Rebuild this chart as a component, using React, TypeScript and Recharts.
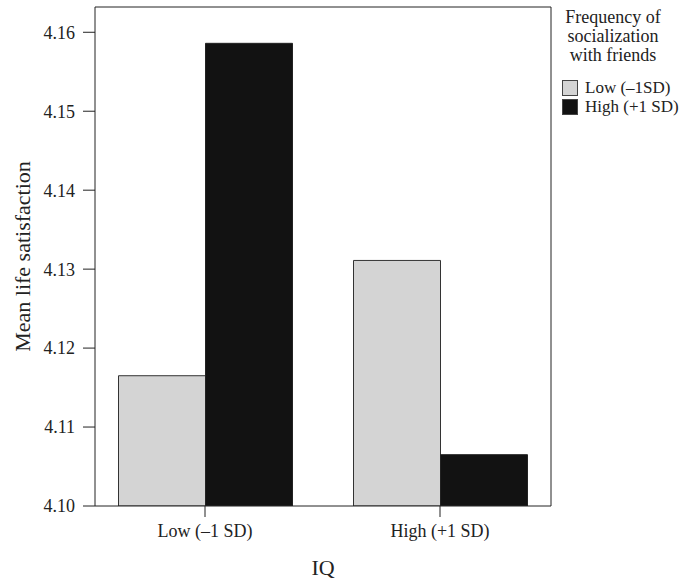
import { Bar, BarChart, XAxis, YAxis } from "recharts";

const iqGroups = ["Low (\u20131 SD)", "High (+1 SD)"];
const lowSocial = [4.1165, 4.1311];
const highSocial = [4.1586, 4.1065];
const yTicks = [4.1, 4.11, 4.12, 4.13, 4.14, 4.15, 4.16];
const legendTitle = ["Frequency of", "socialization", "with friends"];
const legendItems = [
  { label: "Low (\u20131SD)", color: "#d4d4d4" },
  { label: "High (+1 SD)", color: "#121212" },
];

const data = iqGroups.map((g, i) => ({
  iq: g,
  low: lowSocial[i],
  high: highSocial[i],
}));

const font = "'Liberation Serif', 'DejaVu Serif', serif";

const LegendBox = () => (
  <div
    style={{
      position: "absolute",
      left: 557,
      top: 8,
      width: 112,
      fontFamily: font,
      fontSize: 18,
      color: "#222",
    }}
  >
    <div style={{ textAlign: "center", lineHeight: "19px", marginBottom: 13, whiteSpace: "nowrap" }}>
      {legendTitle.map((t) => (
        <div key={t}>{t}</div>
      ))}
    </div>
    {legendItems.map((it) => (
      <div
        key={it.label}
        style={{
          display: "flex",
          alignItems: "center",
          height: 19,
          lineHeight: "17px",
          fontSize: 17,
          paddingLeft: 5,
          whiteSpace: "nowrap",
        }}
      >
        <span
          style={{
            display: "inline-block",
            width: 14,
            height: 14,
            background: it.color,
            border: "1px solid #444",
            marginRight: 7,
            flexShrink: 0,
          }}
        />
        <span>{it.label}</span>
      </div>
    ))}
  </div>
);

export default function App() {
  return (
    <div style={{ position: "absolute", left: 0, top: 0, width: 690, height: 582, background: "#fff" }}>
      <BarChart
        width={690}
        height={582}
        data={data}
        margin={{ top: 6, right: 138, bottom: 46, left: 35 }}
        barGap={0}
      >
        <XAxis
          dataKey="iq"
          padding={{ left: -7.5, right: -6.5 }}
          stroke="#222"
          tickSize={11}
          tick={{ fontFamily: font, fontSize: 18, fill: "#222", dy: 5 }}
          label={{
            value: "IQ",
            position: "insideBottom",
            offset: -39,
            style: { fontFamily: font, fontSize: 22, fill: "#222" },
          }}
          height={30}
        />
        <XAxis
          xAxisId="top"
          orientation="top"
          dataKey="iq"
          tick={false}
          tickLine={false}
          stroke="#222"
          height={1}
        />
        <YAxis
          domain={[4.1, 4.1632]}
          ticks={yTicks}
          allowDataOverflow
          stroke="#222"
          tickSize={12}
          tickMargin={8}
          tickFormatter={(v: number) => v.toFixed(2)}
          tick={{ fontFamily: font, fontSize: 18, fill: "#222" }}
          width={60}
          label={{
            value: "Mean life satisfaction",
            angle: -90,
            position: "insideLeft",
            offset: -13,
            style: { fontFamily: font, fontSize: 22, fill: "#222", textAnchor: "middle" },
          }}
        />
        <YAxis
          yAxisId="right"
          orientation="right"
          domain={[4.1, 4.1632]}
          tick={false}
          tickLine={false}
          stroke="#222"
          width={1}
        />
        <Bar
          dataKey="low"
          fill="#d4d4d4"
          stroke="#333"
          strokeWidth={1}
          barSize={87}
          isAnimationActive={false}
        />
        <Bar
          dataKey="high"
          fill="#121212"
          stroke="#222"
          strokeWidth={1}
          barSize={87}
          isAnimationActive={false}
        />
      </BarChart>
      <LegendBox />
    </div>
  );
}
